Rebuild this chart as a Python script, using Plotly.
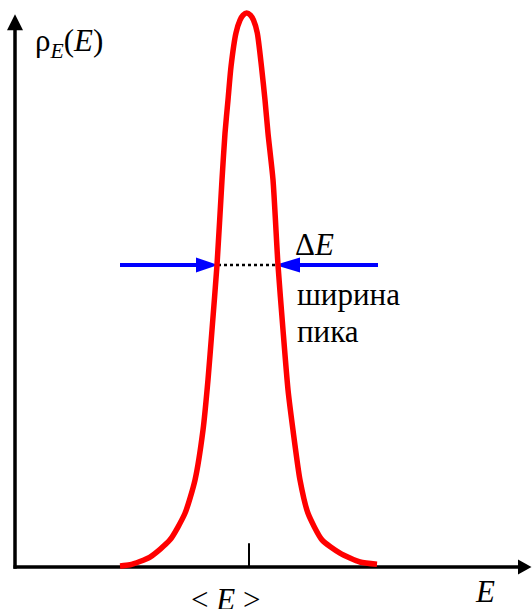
import plotly.graph_objects as go

# Energy (arbitrary units, origin at the vertical axis) and density (peak = 100)
E_vals = [105, 115, 135, 155, 170, 180, 188, 193, 197, 202, 207, 210, 213, 216, 221, 225, 228,
          231.7, 235.5, 238.5, 242.3, 246.5, 250, 253, 258, 263, 268, 273, 278, 285, 293, 307, 325, 345, 362]
rho_vals = [0.2, 0.4, 1.8, 4.9, 9.7, 15.7, 24.7, 33.8, 42.8, 54.5, 69.9, 78.3, 84.3, 90.3, 96.4, 98.7, 99.6,
            100, 99.6, 98.7, 96.4, 90.3, 84.3, 78.3, 69.9, 54.5, 42.8, 32.0, 24.7, 15.7, 9.7, 4.9, 2.5, 0.9, 0.5]

E_mean = 234          # position of <E> tick
half_level = 54.5     # level of the width arrows
width_left = 203      # left crossing at half level
width_right = 260     # right crossing at half level

fig = go.Figure()
fig.add_trace(go.Scatter(x=E_vals, y=rho_vals, mode="lines",
                         line=dict(color="#ff0000", width=5.5, shape="spline", smoothing=0.6),
                         hoverinfo="skip", showlegend=False))

shapes = []
black = "#000000"
blue = "#0000ff"
# axes
shapes.append(dict(type="line", x0=0, y0=-0.3, x1=0, y1=97.5, line=dict(color=black, width=3.5), layer="below"))
shapes.append(dict(type="line", x0=-1.5, y0=0, x1=505, y1=0, line=dict(color=black, width=3.5), layer="below"))
shapes.append(dict(type="path", path="M -8,96.9 L 0,99.8 L 8,96.9 Z", fillcolor=black, line=dict(width=0), layer="below"))
shapes.append(dict(type="path", path="M 503,1.35 L 516.5,0 L 503,-1.35 Z", fillcolor=black, line=dict(width=0), layer="below"))
# tick at <E>
shapes.append(dict(type="line", x0=E_mean, y0=0, x1=E_mean, y1=4.3, line=dict(color=black, width=2), layer="below"))
# width arrows
shapes.append(dict(type="line", x0=105, y0=half_level, x1=185, y1=half_level, line=dict(color=blue, width=4), layer="below"))
shapes.append(dict(type="path", path=f"M 181,{half_level+1.35} L {width_left},{half_level} L 181,{half_level-1.35} Z",
                   fillcolor=blue, line=dict(width=0), layer="below"))
shapes.append(dict(type="line", x0=281, y0=half_level, x1=363, y1=half_level, line=dict(color=blue, width=4), layer="below"))
shapes.append(dict(type="path", path=f"M 285,{half_level+1.35} L {width_right},{half_level} L 285,{half_level-1.35} Z",
                   fillcolor=blue, line=dict(width=0), layer="below"))
shapes.append(dict(type="line", x0=width_left, y0=half_level, x1=width_right, y1=half_level,
                   line=dict(color=black, width=2.5, dash="dot"), layer="below"))

font = dict(family="Liberation Serif", size=31, color=black)
ann = [
    dict(x=18, y=94.6, text="ρ<sub><i>E</i></sub>(<i>E</i>)", xanchor="left", yanchor="middle"),
    dict(x=278, y=58.2, text="Δ<i>E</i>", xanchor="left", yanchor="middle"),
    dict(x=280, y=49.2, text="ширина", xanchor="left", yanchor="middle"),
    dict(x=280, y=42.5, text="пика", xanchor="left", yanchor="middle"),
    dict(x=210.5, y=-5.9, text="&lt; <i>E</i> &gt;", xanchor="center", yanchor="middle"),
    dict(x=470, y=-4.4, text="<i>E</i>", xanchor="center", yanchor="middle"),
]
for a in ann:
    a.update(xref="x", yref="y", showarrow=False, font=font)

fig.update_layout(
    width=532, height=609,
    margin=dict(l=0, r=0, t=0, b=0),
    paper_bgcolor="white", plot_bgcolor="white",
    xaxis=dict(range=[-15, 517], visible=False, fixedrange=True),
    yaxis=dict(range=[-7.58, 102.35], visible=False, fixedrange=True),
    shapes=shapes, annotations=ann, showlegend=False,
)
fig.write_html("out.html", config={"displayModeBar": False, "staticPlot": True},
               post_script="document.body.style.margin='0';document.body.style.overflow='hidden';")
